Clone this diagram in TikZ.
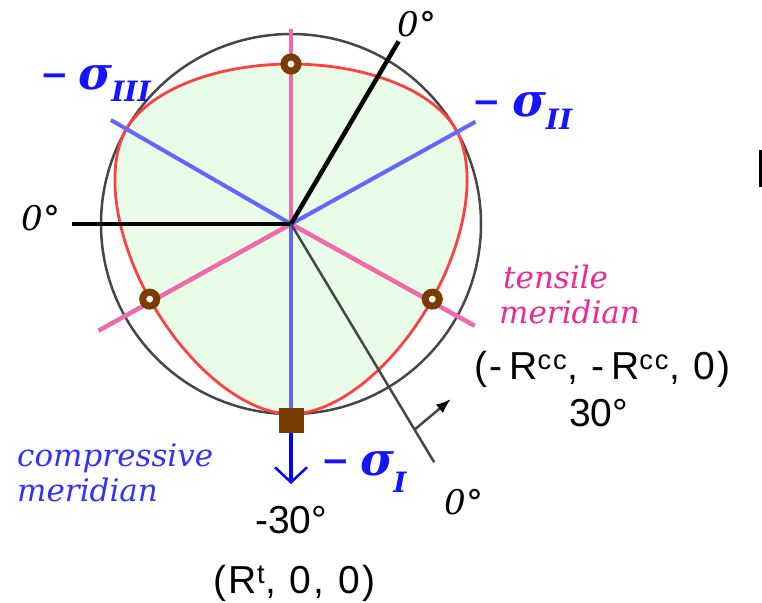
\documentclass[tikz,border=0pt]{standalone}
\usepackage{fontspec}
\setmainfont{DejaVu Serif}
\newfontfamily\coordfont[LetterSpace=7]{Liberation Sans}
\newfontfamily\numfont{Liberation Sans}
\newfontfamily\minfont{DejaVu Sans}
\usetikzlibrary{arrows.meta,calc}
\definecolor{mint}{RGB}{232,252,232}
\definecolor{redc}{RGB}{255,64,64}
\definecolor{pinkc}{RGB}{240,105,170}
\definecolor{bluec}{RGB}{100,100,255}
\definecolor{blued}{RGB}{0,0,255}
\definecolor{brownc}{RGB}{122,60,0}
\definecolor{grayc}{RGB}{70,70,70}
\definecolor{pinktxt}{RGB}{240,40,150}
\definecolor{bluetxt}{RGB}{50,50,255}
\definecolor{sigblue}{RGB}{20,20,255}
\tikzset{
  declare function={wwc(\a)=cos(60-abs(mod(\a+30,120)-60));
    wwr(\a)=(0.582072*wwc(\a)+0.684*sqrt(1.164144*(wwc(\a))^2+0.17682))/(1.164144*(wwc(\a))^2+0.467856);},
  pinkline/.style={pinkc,line width=4.5pt},
  blueline/.style={bluec,line width=4pt},
  blackline/.style={black,line width=4.5pt},
  thinline/.style={grayc,line width=2.5pt},
  tmark/.style={circle,draw=brownc,fill=white,line width=7pt,minimum size=14pt,inner sep=0pt},
  cmark/.style={rectangle,fill=brownc,minimum size=25pt,inner sep=0pt},
  zero/.style={inner sep=0pt,font=\fontsize{34}{34}\selectfont\itshape},
  merid/.style={inner sep=0pt,anchor=base west,font=\fontsize{31}{31}\selectfont\itshape},
  coordlbl/.style={inner sep=0pt,anchor=base west,font=\fontsize{39}{39}\selectfont\coordfont},
  numlbl/.style={inner sep=0pt,anchor=base west,font=\fontsize{39}{39}\selectfont\numfont},
  sigmin/.style={inner sep=0pt,sigblue,font=\fontsize{34}{34}\selectfont\minfont\bfseries},
  sigsym/.style={inner sep=0pt,sigblue,font=\fontsize{46}{46}\selectfont\bfseries\itshape},
  sigsub/.style={inner sep=0pt,sigblue,font=\fontsize{28}{28}\selectfont\bfseries\itshape},
}
\begin{document}
\begin{tikzpicture}[x=1pt,y=-1pt]
\useasboundingbox (0,0) rectangle (762,602);
\coordinate (C) at (291,224);
% deviatoric section fill
\fill[mint] plot[domain=0:360,samples=241,variable=\t] ({291+190*wwr(\t)*cos(\t)},{224-190*wwr(\t)*sin(\t)}) -- cycle;
% outer circle
\draw[grayc,line width=2.5pt] (C) circle (190);
% red curve
\draw[redc,line width=2.8pt] plot[domain=0:360,samples=241,variable=\t] ({291+190*wwr(\t)*cos(\t)},{224-190*wwr(\t)*sin(\t)}) -- cycle;
% end points
\coordinate (pT) at ($(C)+(-90:195)$);
\coordinate (pL) at ($(C)+(151:220)$);
\coordinate (pR) at ($(C)+(29:210)$);
\coordinate (bL) at ($(C)+(-150:208)$);
\coordinate (bR) at ($(C)+(-29:211)$);
\coordinate (kL) at ($(C)+(180:219)$);
\coordinate (kU) at ($(C)+(-59.5:212)$);
\coordinate (tE) at ($(C)+(59:278)$);
\coordinate (aB) at ($(C)!0.863!(tE)$);
\coordinate (aT) at (451,399);
\coordinate (sE) at (291,484);
% meridian lines
\draw[pinkline] (C) -- (pT);
\draw[pinkline] (C) -- (pL);
\draw[pinkline] (C) -- (pR);
\draw[blueline] (C) -- (bL);
\draw[blueline] (C) -- (bR);
\node[cmark] (sq) at (291,420.5) {};
\draw[blueline] (C) -- (sq.north);
\draw[blued,line width=4.5pt,-{Straight Barb[length=15pt,width=32pt,line width=2.5pt]}] (sq.south) -- (sE);
\draw[blackline] (C) -- (kL);
\draw[blackline] (C) -- (kU);
\draw[thinline] (C) -- (tE);
\draw[grayc,line width=2.5pt,-{Latex[length=15pt,width=11pt,fill=black,color=black]}] (aB) -- (aT);
% tensile markers
\node[tmark] (m1) at ($(C)+(-90:160)$) {};
\node[tmark] (m2) at ($(C)+(152:160)$) {};
\node[tmark] (m3) at ($(C)+(28:160)$) {};
% zero labels
\node[zero] (z1) at (417,24.5) {0°};
\node[zero] (z2) at (41,218) {0°};
\node[zero] (z3) at (464,502) {0°};
% sigma labels
\node[sigmin] (n3) at (54.5,80) {−};
\node[sigsym] (s3) at (95,78) {σ};
\node[sigsub] (i3) at (131,91) {III};
\node[sigmin] (n2) at (486.5,107) {−};
\node[sigsym] (s2) at (529,105) {σ};
\node[sigsub] (i2) at (559,119) {II};
\node[sigmin] (n1) at (336,466) {−};
\node[sigsym] (s1) at (377,464) {σ};
\node[sigsub] (i1) at (400,482) {I};
% meridian names
\node[merid,pinktxt] (te1) at (503,288) {tensile};
\node[merid,pinktxt] (te2) at (499,323) {meridian};
\node[merid,bluetxt] (co1) at (17,466) {compressive};
\node[merid,bluetxt] (co2) at (17,501) {meridian};
% coordinates
\node[coordlbl] (cc) at (474,379) {(-\,R\textsuperscript{cc}, -\,R\textsuperscript{cc}, 0)};
\node[numlbl] (a30) at (569,426) {30°};
\node[numlbl] (am30) at (255,533) {-30°};
\node[coordlbl] (rt) at (213,593) {(R\textsuperscript{t}, 0, 0)};
% stray mark at right edge
\fill (759,150) rectangle (762,187);
\end{tikzpicture}
\end{document}
